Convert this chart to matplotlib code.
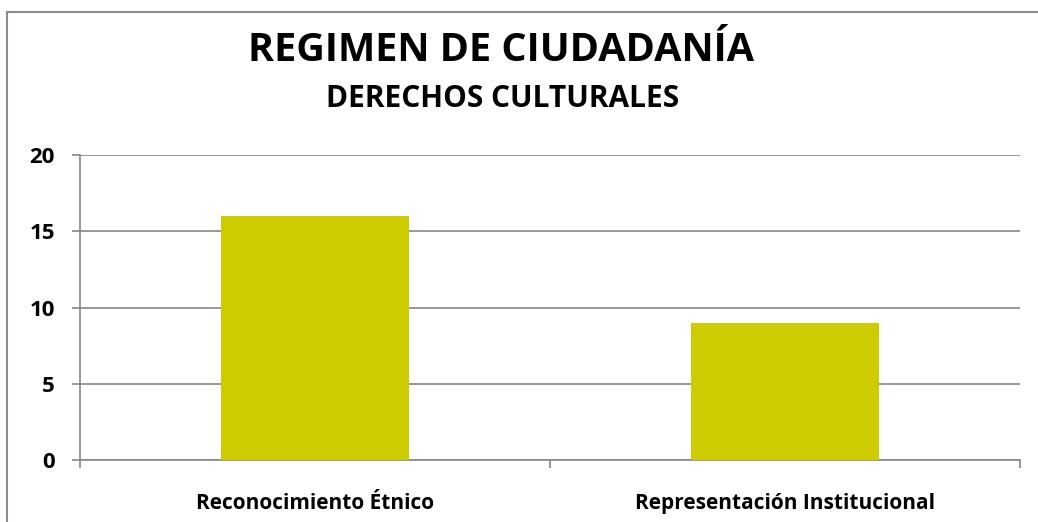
import matplotlib
matplotlib.use('Agg')
import matplotlib.pyplot as plt
from matplotlib.patches import Rectangle

categorias = ['Reconocimiento Étnico', 'Representación Institucional']
valores = [16, 9]
ticks_y = [0, 5, 10, 15, 20]

plt.rcParams['font.family'] = ['Open Sans', 'DejaVu Sans']
plt.rcParams['font.weight'] = 'bold'

fig = plt.figure(figsize=(10.38, 5.22), dpi=100)
# marco del gráfico
fig.patches.append(Rectangle((7 / 1038, -0.1), 1.2, 1 - 12 / 522 + 0.1,
                             transform=fig.transFigure, fill=False,
                             edgecolor='#8c8c8c', linewidth=1.5))

ax = fig.add_axes([80 / 1038, 1 - 460 / 522, 940 / 1038, 305 / 522])
x = range(len(categorias))
ax.bar(x, valores, width=0.4, color='#CCCC00', zorder=3)

ax.set_xlim(-0.5, 1.5)
ax.set_ylim(0, 20)
ax.set_yticks(ticks_y)
ax.set_yticklabels([str(t) for t in ticks_y])
ax.yaxis.grid(True, color='#868686', linewidth=1.2, zorder=0)

ax.set_xticks([-0.5, 0.5, 1.5])
ax.set_xticklabels([])
ax.set_xticks(list(x), minor=True)
ax.set_xticklabels(categorias, minor=True)
ax.tick_params(axis='x', which='minor', length=0, pad=24, labelsize=15)
ax.tick_params(axis='x', which='major', length=6, color='#868686', width=1.2)
ax.tick_params(axis='y', length=6, color='#868686', width=1.2, pad=12, labelsize=16)
plt.setp(ax.get_yticklabels(), fontweight='bold')
plt.setp(ax.get_xticklabels(minor=True), fontweight='bold')

for s in ['top', 'right']:
    ax.spines[s].set_visible(False)
for s in ['left', 'bottom']:
    ax.spines[s].set_color('#868686')
    ax.spines[s].set_linewidth(1.2)

fig.text(501 / 1038, 1 - 61 / 522, 'REGIMEN DE CIUDADANÍA', ha='center', va='baseline',
         fontsize=28.5, fontweight='bold')
fig.text(503 / 1038, 1 - 107 / 522, 'DERECHOS CULTURALES', ha='center', va='baseline',
         fontsize=21.5, fontweight='bold')

fig.savefig('out.png', dpi=100, facecolor='white')
